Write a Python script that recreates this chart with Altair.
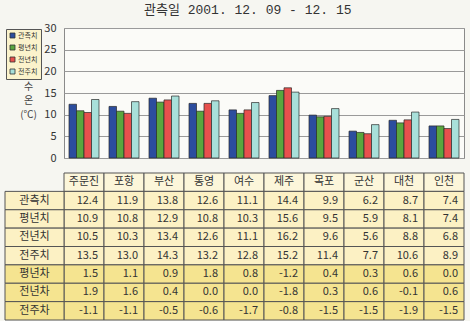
import altair as alt
import pandas as pd

cities = ["주문진", "포항", "부산", "통영", "여수", "제주", "목포", "군산", "대천", "인천"]
series = ["관측치", "평년치", "전년치", "전주치"]
obs = [12.4, 11.9, 13.8, 12.6, 11.1, 14.4, 9.9, 6.2, 8.7, 7.4]
normal = [10.9, 10.8, 12.9, 10.8, 10.3, 15.6, 9.5, 5.9, 8.1, 7.4]
lastyear = [10.5, 10.3, 13.4, 12.6, 11.1, 16.2, 9.6, 5.6, 8.8, 6.8]
lastweek = [13.5, 13.0, 14.3, 13.2, 12.8, 15.2, 11.4, 7.7, 10.6, 8.9]
diff_rows = ["평년차", "전년차", "전주차"]
diff_normal = [1.5, 1.1, 0.9, 1.8, 0.8, -1.2, 0.4, 0.3, 0.6, 0.0]
diff_year = [1.9, 1.6, 0.4, 0.0, 0.0, -1.8, 0.3, 0.6, -0.1, 0.6]
diff_week = [-1.1, -1.1, -0.5, -0.6, -1.7, -0.8, -1.5, -1.5, -1.9, -1.5]
y_ticks = [0, 5, 10, 15, 20, 25, 30]
title_text = "관측일 2001. 12. 09 - 12. 15"

colors = ["#2c4d9e", "#5aa63e", "#e7504d", "#a8e0da"]
FONT = "Noto Sans CJK KR"
TFONT = "Liberation Mono, Noto Sans CJK KR"

series_vals = [obs, normal, lastyear, lastweek]
bar_df = pd.DataFrame(
    [{"city": c, "series": s, "value": v}
     for s, vals in zip(series, series_vals) for c, v in zip(cities, vals)]
)

all_rows = series + diff_rows
all_vals = series_vals + [diff_normal, diff_year, diff_week]
ykeys = ["hdr"] + all_rows

cell_records = []
for c in cities:
    cell_records.append({"city": c, "row": "hdr", "text": c, "grp": "h"})
for r, vals in zip(all_rows, all_vals):
    grp = "a" if r in series else "b"
    for c, v in zip(cities, vals):
        cell_records.append({"city": c, "row": r, "text": f"{v:.1f}", "grp": grp})
cell_df = pd.DataFrame(cell_records)
label_df = pd.DataFrame(
    [{"row": r, "grp": ("a" if r in series else "b")} for r in all_rows]
)

bars = alt.Chart(bar_df).mark_bar(stroke="#2a2a2a", strokeWidth=0.7).encode(
    x=alt.X("city:N", sort=cities, axis=None,
            scale=alt.Scale(paddingInner=0.25, paddingOuter=0.125)),
    xOffset=alt.XOffset("series:N", sort=series),
    y=alt.Y("value:Q", scale=alt.Scale(domain=[0, 30]),
            axis=alt.Axis(values=y_ticks, title=["수", "온", "(℃)"], titleAngle=0,
                          titleX=-36, titleY=53, titleAlign="center",
                          titleBaseline="top", titleLineHeight=14,
                          titleFont=FONT, titleFontSize=10, titleFontWeight="normal",
                          titleColor="#444", labelFont=FONT, labelFontSize=11,
                          labelColor="#333", labelPadding=8, ticks=False,
                          domain=False, gridColor="#9a9a9a", gridWidth=1)),
    color=alt.Color("series:N", sort=series,
                    scale=alt.Scale(domain=series, range=colors),
                    legend=alt.Legend(orient="none", legendX=-58, legendY=1,
                                      title=None, fillColor="#fbf3cc",
                                      strokeColor="#555", padding=3,
                                      symbolType="square", symbolSize=25,
                                      symbolStrokeColor="#333", symbolStrokeWidth=0.8,
                                      labelFont=FONT, labelFontSize=7,
                                      labelColor="#333", labelOffset=2,
                                      rowPadding=3)),
).properties(
    width=400, height=130,
    view=alt.ViewBackground(stroke="#8a8a8a", fill="#fbfbf8"),
    title=alt.TitleParams(title_text, anchor="start", frame="group", dx=80,
                          offset=5, font=TFONT, fontSize=13, fontWeight="normal",
                          color="#333"),
)

fill_scale = alt.Scale(domain=["h", "a", "b"], range=["#fcf6da", "#fcf1c4", "#f5e490"])
yenc = alt.Y("row:N", sort=ykeys, axis=None,
             scale=alt.Scale(domain=ykeys, paddingInner=0, paddingOuter=0))
xenc_scale = alt.Scale(paddingInner=0, paddingOuter=0)

cells = alt.Chart(cell_df).mark_rect(stroke="#555", strokeWidth=1).encode(
    x=alt.X("city:N", sort=cities, axis=None, scale=xenc_scale),
    y=yenc,
    fill=alt.Fill("grp:N", scale=fill_scale, legend=None),
)
label_cells = alt.Chart(label_df).mark_rect(stroke="#555", strokeWidth=1).encode(
    x=alt.value(-59), x2=alt.value(0),
    y=yenc,
    fill=alt.Fill("grp:N", scale=fill_scale, legend=None),
)
num_text = alt.Chart(cell_df).transform_filter(alt.datum.row != "hdr").mark_text(
    align="right", dx=-6, font=FONT, fontSize=11, color="#333"
).encode(
    x=alt.X("city:N", sort=cities, axis=None, scale=xenc_scale, bandPosition=1),
    y=yenc,
    text="text:N",
)
hdr_text = alt.Chart(cell_df).transform_filter(alt.datum.row == "hdr").mark_text(
    align="center", font=FONT, fontSize=11, color="#333"
).encode(
    x=alt.X("city:N", sort=cities, axis=None, scale=xenc_scale),
    y=yenc,
    text="text:N",
)
row_text = alt.Chart(label_df).mark_text(
    align="center", font=FONT, fontSize=11, color="#333"
).encode(
    x=alt.value(-29.5),
    y=yenc,
    text="row:N",
)

table = alt.layer(cells, label_cells, num_text, hdr_text, row_text).properties(
    width=400, height=147,
    view=alt.ViewBackground(stroke="transparent"),
)

chart = alt.vconcat(bars, table, spacing=8).resolve_scale(
    color="independent", fill="independent", x="independent", y="independent"
).properties(
    padding={"left": 4, "top": 3, "right": 5, "bottom": 0},
    background="#f6f6f1",
).configure_view(stroke="transparent")

chart.save("out.html", embed_options={"renderer": "svg", "actions": False})
